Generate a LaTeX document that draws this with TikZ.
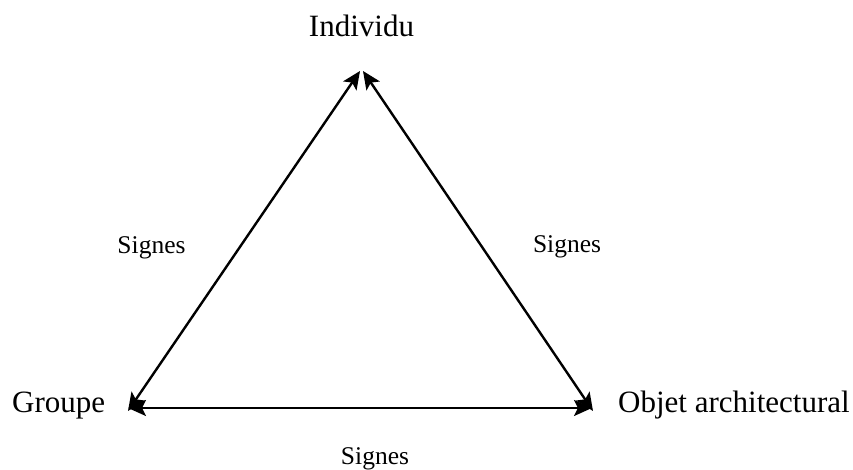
\documentclass[tikz,border=0pt]{standalone}
\usepackage{fontspec}
\setmainfont{Liberation Serif}
\usetikzlibrary{arrows.meta}

\newcommand*{\bigsize}{\fontsize{31bp}{36bp}\selectfont}
\newcommand*{\smallsize}{\fontsize{25.5bp}{30bp}\selectfont}

\begin{document}
\begin{tikzpicture}
[
	x=1bp, y=1bp,
	corner/.style={inner sep=0pt,font=\bigsize},
	signe/.style={inner sep=0pt,font=\smallsize},
	tip/.style={arrows={Stealth[length=18bp,width=16bp,inset=4bp]-Stealth[length=18bp,width=16bp,inset=4bp]}},
	link/.style={tip,line width=2.4bp}
]

	\useasboundingbox (0,0) rectangle (853,470);

	% labels
	\node[corner,anchor=base] at (361.5,433.5) (ind) {Individu};
	\node[corner,anchor=base west] at (12,57.5) (grp) {Groupe};
	\node[corner,anchor=base west] at (618,57.5) (obj) {Objet architectural};

	% arrow ends
	\coordinate (topL) at (360,399);
	\coordinate (topR) at (363,399);
	\coordinate (grpD) at (128,59);
	\coordinate (grpH) at (128,62);
	\coordinate (objH) at (592,62);
	\coordinate (objD) at (593,59);

	% triangle
	\draw[link] (grpD) -- (topL);
	\draw[link] (topR) -- (objD);
	\draw[link] (grpH) -- (objH);

	\node[signe,anchor=base] at (151.5,216.5) (sl) {Signes};
	\node[signe,anchor=base] at (567,217) (sr) {Signes};
	\node[signe,anchor=base] at (375,5) (sb) {Signes};

\end{tikzpicture}
\end{document}
